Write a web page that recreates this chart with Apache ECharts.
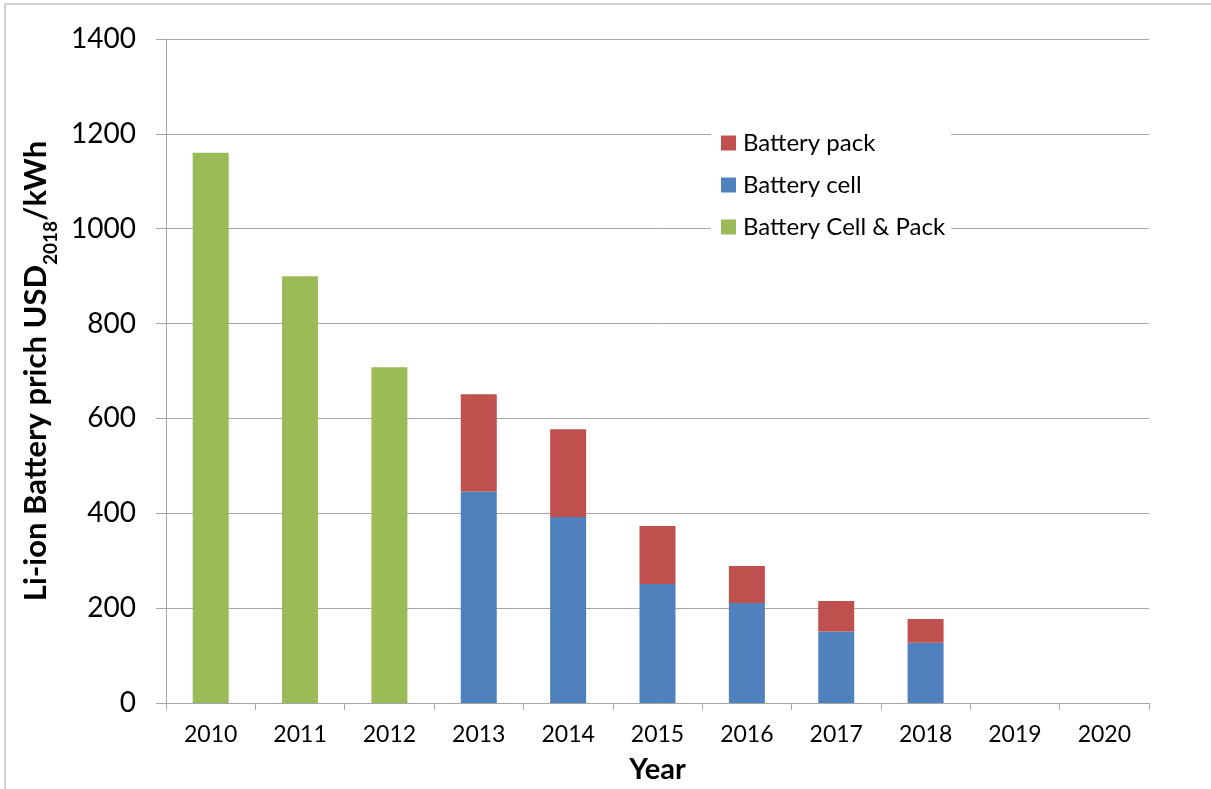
<!DOCTYPE html>
<html>
<head>
<meta charset="utf-8">
<title>Li-ion battery price</title>
<script src="https://cdn.jsdelivr.net/npm/echarts@6/dist/echarts.min.js"></script>
<style>
  html, body { margin: 0; padding: 0; background: #fff; }
  #chart { width: 1211px; height: 789px; }
</style>
</head>
<body>
<div id="chart"></div>
<script>
// data
const years = ['2010', '2011', '2012', '2013', '2014', '2015', '2016', '2017', '2018', '2019', '2020'];
const cellAndPack = [1160, 900, 708, null, null, null, null, null, null, null, null];
const cell = [null, null, null, 446, 392, 251, 211, 151, 127, null, null];
const pack = [null, null, null, 205, 185, 122, 78, 64, 50, null, null];
const yTicks = { min: 0, max: 1400, interval: 200 };

const font = 'Lato, "Open Sans", sans-serif';
const gridColor = '#a6a6a6';

const chart = echarts.init(document.getElementById('chart'));

chart.setOption({
  animation: false,
  textStyle: { fontFamily: font, color: '#000' },
  graphic: [{
    // outer chart frame (only top and left edges are inside the picture)
    type: 'rect',
    shape: { x: 5, y: 4, width: 1300, height: 900 },
    style: { fill: 'none', stroke: '#a6a6a6', lineWidth: 1 },
    silent: true
  }],
  grid: { left: 166, right: 62, top: 39, bottom: 86 },
  legend: {
    data: ['Battery pack', 'Battery cell', 'Battery Cell & Pack'],
    orient: 'vertical',
    left: 711,
    top: 125,
    backgroundColor: '#fff',
    padding: [6, 6, 6, 10],
    itemWidth: 15,
    itemHeight: 15,
    itemGap: 18,
    icon: 'rect',
    textStyle: { fontSize: 24, fontFamily: font, color: '#000', padding: [0, 0, 0, 2] }
  },
  xAxis: {
    type: 'category',
    data: years,
    name: 'Year',
    nameLocation: 'middle',
    nameGap: 52,
    nameTextStyle: { fontSize: 29, fontWeight: 'bold', fontFamily: font, color: '#000' },
    axisLine: { lineStyle: { color: gridColor } },
    axisTick: { show: true, length: 7, lineStyle: { color: gridColor } },
    axisLabel: { fontSize: 23, margin: 20, color: '#000', fontFamily: font }
  },
  yAxis: {
    type: 'value',
    min: yTicks.min,
    max: yTicks.max,
    interval: yTicks.interval,
    name: '{a|Li-ion Battery prich USD}{b|2018}{a|/kWh}',
    nameLocation: 'middle',
    nameGap: 104,
    nameTextStyle: {
      rich: {
        a: { fontSize: 31, fontWeight: 'bold', fontFamily: font, color: '#000', lineHeight: 34 },
        b: { fontSize: 19, fontWeight: 'bold', fontFamily: font, color: '#000', lineHeight: 19, verticalAlign: 'bottom', padding: [0, 0, -7, 0] }
      }
    },
    axisLine: { show: true, lineStyle: { color: gridColor } },
    axisTick: { show: true, length: 10, lineStyle: { color: gridColor } },
    axisLabel: { fontSize: 28, margin: 30, color: '#000', fontFamily: font, formatter: v => String(v) },
    splitLine: { lineStyle: { color: gridColor } }
  },
  series: [
    {
      name: 'Battery cell', type: 'bar', stack: 'price', data: cell,
      barWidth: 36, itemStyle: { color: '#4F81BD' }
    },
    {
      name: 'Battery pack', type: 'bar', stack: 'price', data: pack,
      barWidth: 36, itemStyle: { color: '#C0504D' }
    },
    {
      name: 'Battery Cell & Pack', type: 'bar', stack: 'price', data: cellAndPack,
      barWidth: 36, itemStyle: { color: '#9BBB59' }
    }
  ]
});
</script>
</body>
</html>
